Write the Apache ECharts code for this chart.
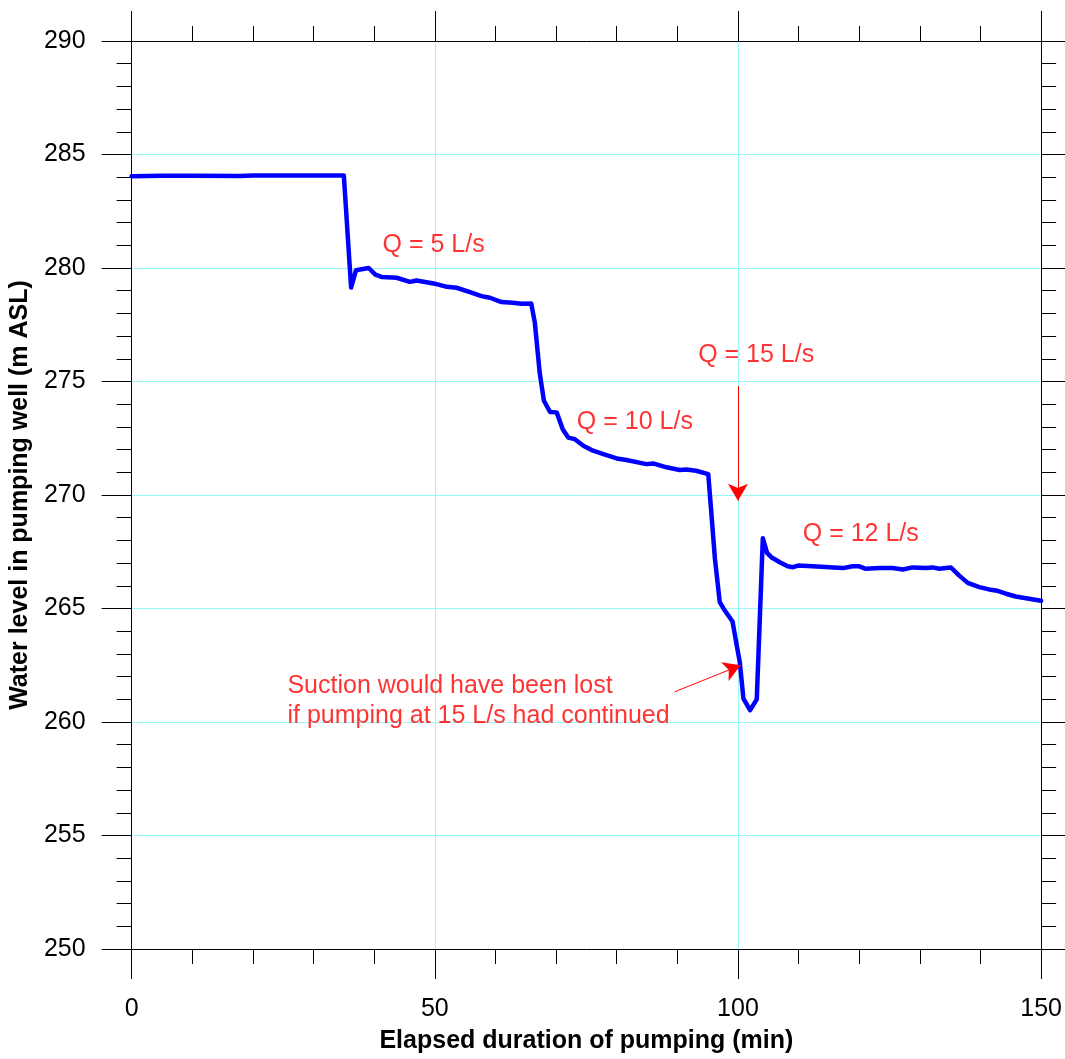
<!DOCTYPE html>
<html>
<head>
<meta charset="utf-8">
<script src="https://cdn.jsdelivr.net/npm/echarts@6/dist/echarts.min.js"></script>
<style>
  html, body { margin: 0; padding: 0; background: #fff; }
  #chart { width: 1065px; height: 1059px; }
</style>
</head>
<body>
<div id="chart"></div>
<script>
// Elapsed time since pumping started (min)
const times = [0, 5, 10, 18, 20, 30, 35, 36.2, 37.0, 39.1, 40.2, 41.3, 43.7, 45.9, 47.0, 49.8,
  52.0, 53.6, 55.8, 57.7, 59.1, 61.0, 62.9, 64.3, 65.9, 66.5, 67.3, 68.0, 69.0, 70.1, 71.1,
  72.0, 73.1, 74.5, 76.1, 77.8, 80.0, 81.6, 84.9, 86.0, 88.2, 90.4, 91.5, 93.1, 95.1, 95.6,
  96.2, 97.0, 97.8, 99.1, 99.7, 100.3, 100.9, 102.0, 103.1, 104.1, 104.8, 105.5, 106.9,
  108.2, 109.1, 109.9, 112.3, 115.1, 117.3, 118.9, 120.0, 121.1, 123.3, 125.5, 127.2,
  128.8, 131.0, 132.1, 133.2, 135.1, 136.5, 137.9, 139.8, 141.4, 142.8, 144.2, 145.8,
  148.0, 150.0];

// Water level in the pumping well (m ASL)
const levels = [284.04, 284.06, 284.06, 284.05, 284.07, 284.07, 284.07, 279.14, 279.90,
  280.00, 279.71, 279.60, 279.57, 279.39, 279.45, 279.32, 279.17, 279.13, 278.94, 278.76,
  278.69, 278.50, 278.47, 278.43, 278.44, 277.59, 275.39, 274.15, 273.66, 273.64, 272.90,
  272.53, 272.46, 272.17, 271.95, 271.80, 271.61, 271.54, 271.36, 271.39, 271.22, 271.10,
  271.12, 271.07, 270.92, 269.24, 267.19, 265.28, 264.92, 264.43, 263.52, 262.64, 261.03,
  260.52, 261.00, 268.10, 267.45, 267.26, 267.04, 266.86, 266.82, 266.89, 266.86, 266.82,
  266.78, 266.86, 266.86, 266.75, 266.78, 266.78, 266.72, 266.81, 266.78, 266.81, 266.75,
  266.81, 266.45, 266.13, 265.94, 265.84, 265.78, 265.65, 265.53, 265.43, 265.34];

// Pumping-rate notes: text, time (min), level (m ASL), alignment
const noteTexts = ['Q = 5 L/s', 'Q = 10 L/s', 'Q = 15 L/s', 'Q = 12 L/s',
  'Suction would have been lost\nif pumping at 15 L/s had continued'];
const noteTimes = [49.8, 83.0, 103.0, 120.25, 25.7];
const noteLevels = [281.03, 273.23, 276.18, 268.27, 260.92];
const noteAligns = ['center', 'center', 'center', 'center', 'left'];

// Pointer arrows: [startTime, startLevel, endTime, endLevel]
const arrows = [
  [100.0, 274.8, 100.0, 269.75],
  [89.57, 261.33, 100.44, 262.5]
];

const xTicks = { min: 0, max: 150, interval: 50 };
const yTicks = { min: 250, max: 290, interval: 5 };

const FONT = '"Liberation Sans", Arial, Helvetica, sans-serif';
const RED = '#ff0000';
const GRID = '#99fafa';

function xAxisCfg(pos, labels) {
  return {
    type: 'value', position: pos,
    min: xTicks.min, max: xTicks.max, interval: xTicks.interval,
    axisLine: { show: true, onZero: false, lineStyle: { color: '#000', width: 1 } },
    axisTick: { show: true, inside: false, length: 30, lineStyle: { color: '#000', width: 1 } },
    minorTick: { show: true, splitNumber: 5, length: 15, lineStyle: { color: '#000', width: 1 } },
    splitLine: { show: labels, lineStyle: { color: GRID, width: 1 } },
    minorSplitLine: { show: false },
    axisLabel: { show: labels, margin: 48, color: '#000', fontSize: 25, fontFamily: FONT },
    name: labels ? 'Elapsed duration of pumping (min)' : '',
    nameLocation: 'middle', nameGap: 80,
    nameTextStyle: { color: '#000', fontSize: 25, fontWeight: 'bold', fontFamily: FONT }
  };
}

function yAxisCfg(pos, labels) {
  return {
    type: 'value', position: pos,
    min: yTicks.min, max: yTicks.max, interval: yTicks.interval,
    axisLine: { show: true, onZero: false, lineStyle: { color: '#000', width: 1 } },
    axisTick: { show: true, inside: false, length: 30, lineStyle: { color: '#000', width: 1 } },
    minorTick: { show: true, splitNumber: 5, length: 15, lineStyle: { color: '#000', width: 1 } },
    splitLine: { show: labels, lineStyle: { color: GRID, width: 1 } },
    minorSplitLine: { show: false },
    axisLabel: { show: labels, margin: 46, color: '#000', fontSize: 25, fontFamily: FONT },
    name: labels ? 'Water level in pumping well (m ASL)' : '',
    nameLocation: 'middle', nameGap: 93,
    nameTextStyle: { color: '#000', fontSize: 25, fontWeight: 'bold', fontFamily: FONT }
  };
}

const chart = echarts.init(document.getElementById('chart'), null, { renderer: 'canvas' });

chart.setOption({
  animation: false,
  backgroundColor: '#fff',
  grid: { left: 131, right: 23, top: 41, bottom: 105, containLabel: false },
  xAxis: [xAxisCfg('bottom', true), xAxisCfg('top', false)],
  yAxis: [yAxisCfg('left', true), yAxisCfg('right', false)],
  series: [
    {
      type: 'line',
      xAxisIndex: 0, yAxisIndex: 0,
      data: times.map((t, i) => [t, levels[i]]),
      showSymbol: false, symbol: 'none', smooth: false,
      lineStyle: { color: '#0000ff', width: 4.5, join: 'round', cap: 'round' },
      z: 3,
      markLine: {
        silent: true, animation: false,
        symbol: ['none', 'arrow'], symbolSize: [15, 17],
        label: { show: false },
        lineStyle: { color: RED, width: 1, type: 'solid' },
        emphasis: { disabled: true },
        data: arrows.map(a => [
          { coord: [a[0], a[1]] },
          { coord: [a[2], a[3]] }
        ])
      }
    },
    {
      type: 'scatter',
      xAxisIndex: 0, yAxisIndex: 0,
      symbolSize: 0, silent: true, z: 4,
      data: noteTexts.map((txt, i) => ({
        value: [noteTimes[i], noteLevels[i]],
        label: {
          show: true,
          formatter: txt,
          position: noteAligns[i] === 'left' ? 'right' : 'inside',
          distance: 0,
          align: noteAligns[i],
          verticalAlign: 'middle',
          color: RED, fontSize: 25, lineHeight: 30, fontFamily: FONT
        }
      }))
    }
  ]
});
</script>
</body>
</html>
